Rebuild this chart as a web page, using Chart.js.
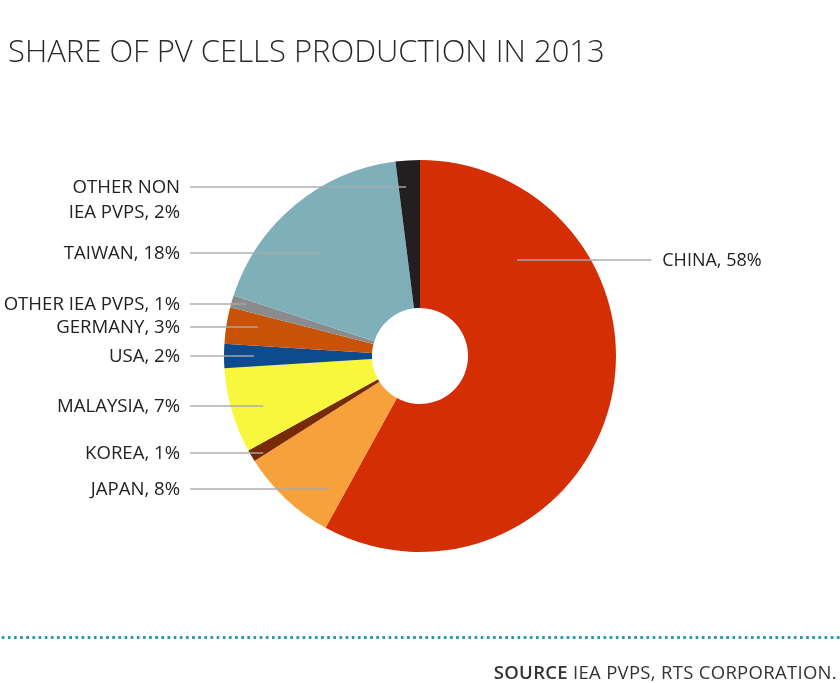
<!DOCTYPE html>
<html>
<head>
<meta charset="utf-8">
<script src="https://cdn.jsdelivr.net/npm/chart.js@4"></script>
<style>
  html, body { margin: 0; padding: 0; background: #fff; }
  #wrap { position: relative; width: 840px; height: 683px; overflow: hidden; }
  #title { position: absolute; left: 8px; top: 29px; font-family: "Open Sans", sans-serif; font-weight: 300; font-size: 31px; color: #2a2a2a; white-space: nowrap; }
  #dots { position: absolute; left: 0; top: 635px; width: 840px; height: 5px;
    background: radial-gradient(circle, #2a9aa6 1.4px, transparent 1.8px) 0 0 / 6.15px 5px repeat-x; }
  #source { position: absolute; right: 3px; top: 659px; font-family: "Open Sans", sans-serif; font-size: 18.5px; color: #333; white-space: nowrap; letter-spacing: 0.3px; }
  #source b { font-weight: 600; }
  canvas { position: absolute; left: 0; top: 0; }
</style>
</head>
<body>
<div id="wrap">
  <canvas id="pvChart" width="840" height="683"></canvas>
  <div id="title">SHARE OF PV CELLS PRODUCTION IN 2013</div>
  <div id="dots"></div>
  <div id="source"><b>SOURCE</b> IEA PVPS, RTS CORPORATION.</div>
</div>
<script>
const countries = ['CHINA', 'JAPAN', 'KOREA', 'MALAYSIA', 'USA', 'GERMANY', 'OTHER IEA PVPS', 'TAIWAN', 'OTHER NON\nIEA PVPS'];
const shares = [58, 8, 1, 7, 2, 3, 1, 18, 2];
const colors = ['#d32e04', '#f6a13b', '#762a06', '#f8f73e', '#0d4b8c', '#c85208', '#8b8b8d', '#7fb0ba', '#231f20'];

// leader line layout, in units of the outer radius: label y offset and line end x offset
const leaderY = [-0.49, 0.679, 0.495, 0.255, 0, -0.148, -0.265, -0.526, -0.862];
const leaderX = [0.495, -0.47, -0.80, -0.80, -0.847, -0.827, -0.888, -0.51, -0.071];

const leaderPlugin = {
    id: 'leaders',
    afterDatasetsDraw(chart) {
        const ctx = chart.ctx;
        const arc = chart.getDatasetMeta(0).data[0];
        const cx = arc.x, cy = arc.y, r = arc.outerRadius;
        ctx.save();
        ctx.textBaseline = 'middle';
        countries.forEach((name, i) => {
            const y = cy + leaderY[i] * r;
            const ex = cx + leaderX[i] * r;
            const right = leaderX[i] > 0;
            const sx = right ? cx + 1.18 * r : cx - 1.173 * r;
            ctx.strokeStyle = 'rgba(170,170,170,0.95)';
            ctx.lineWidth = 1.5;
            ctx.beginPath();
            ctx.moveTo(sx, y);
            ctx.lineTo(ex, y);
            ctx.stroke();
            const lines = (name + ', ' + shares[i] + '%').split('\n');
            ctx.font = (right ? '18px' : '18.6px') + ' "Open Sans", sans-serif';
            ctx.fillStyle = '#222';
            ctx.textAlign = right ? 'left' : 'right';
            const tx = right ? sx + 11 : sx - 10;
            lines.forEach((t, k) => ctx.fillText(t, tx, y + 1 + k * 25));
        });
        ctx.restore();
    }
};

new Chart(document.getElementById('pvChart').getContext('2d'), {
    type: 'doughnut',
    data: {
        labels: countries,
        datasets: [{
            data: shares,
            backgroundColor: colors,
            borderWidth: 0
        }]
    },
    options: {
        responsive: false,
        animation: false,
        cutout: '24.5%',
        layout: { padding: { top: 160, bottom: 131, left: 224, right: 224 } },
        plugins: {
            legend: { display: false },
            tooltip: { enabled: false }
        }
    },
    plugins: [leaderPlugin]
});
</script>
</body>
</html>
